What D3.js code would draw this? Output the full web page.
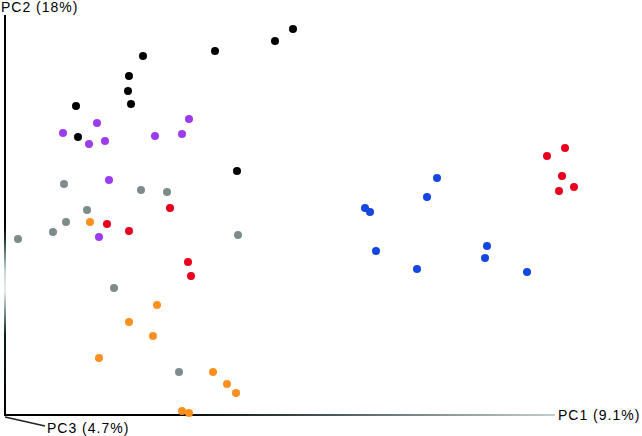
<!DOCTYPE html>
<html><head><meta charset="utf-8">
<script src="https://cdn.jsdelivr.net/npm/d3@7"></script>
<style>body{margin:0;background:#fff}svg{display:block}</style>
</head><body>
<script>
// PC scores (arbitrary units: PC1 0..550, PC2 0..400)
const groupNames = ["black","purple","gray","red","orange","blue"];
const blackPC1 = [288,270,210,138,124,123,126,71,73,232];
const blackPC2 = [386,374,364,359,339,324,311,309,278,244];
const purplePC1 = [184,92,58,177,150,100,84,104,94];
const purplePC2 = [296,292,282,281,279,274,271,235,178];
const grayPC1 = [59,136,162,82,61,48,13,233,109,174];
const grayPC2 = [231,225,223,205,193,183,176,180,127,43];
const redPC1 = [165,102,124,183,186,560,542,557,569,554];
const redPC2 = [207,191,184,153,139,267,259,239,228,224];
const orangePC1 = [85,152,124,148,94,208,222,231,177,184];
const orangePC2 = [193,110,93,79,57,43,31,22,4,2];
const bluePC1 = [432,422,360,365,371,412,482,480,522];
const bluePC2 = [237,218,207,203,164,146,169,157,143];
const groupColors = ["#000000","#9a3cf0","#7c8c8c","#e8001e","#ff9020","#1446e0"];
const axisLabels = ["PC1 (9.1%)","PC2 (18%)","PC3 (4.7%)"];

const W = 642, H = 436;
const svg = d3.select("body").append("svg").attr("width",W).attr("height",H);
const x = d3.scaleLinear().domain([0,550]).range([5,555]);
const y = d3.scaleLinear().domain([0,400]).range([415,15]);

const defs = svg.append("defs");
const gh = defs.append("linearGradient").attr("id","gh").attr("gradientUnits","userSpaceOnUse")
  .attr("x1",x(0)).attr("x2",x(550)).attr("y1",0).attr("y2",0);
[[0,"#000"],[0.3,"#000"],[0.55,"#3c4c4c"],[0.8,"#8a9898"],[1,"#c4cccc"]].forEach(s=>gh.append("stop").attr("offset",s[0]).attr("stop-color",s[1]));
const gv = defs.append("linearGradient").attr("id","gv").attr("gradientUnits","userSpaceOnUse")
  .attr("x1",0).attr("x2",0).attr("y1",y(400)).attr("y2",y(0));
[[0,"#000"],[0.53,"#000"],[0.56,"#1c3438"],[0.64,"#c8d4d4"],[0.69,"#e4ecec"],[0.76,"#5c7070"],[0.8,"#0c1c20"],[1,"#000"]].forEach(s=>gv.append("stop").attr("offset",s[0]).attr("stop-color",s[1]));

// axes
svg.append("line").attr("x1",x(0)).attr("x2",x(550)).attr("y1",y(0)).attr("y2",y(0))
  .attr("stroke","url(#gh)").attr("stroke-width",2);
svg.append("line").attr("x1",x(0)).attr("x2",x(0)).attr("y1",y(0)+1).attr("y2",y(400))
  .attr("stroke","url(#gv)").attr("stroke-width",2);
svg.append("line").attr("x1",x(0)).attr("x2",x(0)+40).attr("y1",y(0)+2).attr("y2",y(0)+11)
  .attr("stroke","#222").attr("stroke-width",1.5);

const lab = {"font-family":"Liberation Sans, Arial, sans-serif","font-size":"14px","letter-spacing":"1px","fill":"#000"};
function addText(t,px,py){const e=svg.append("text").text(t).attr("x",px).attr("y",py);Object.entries(lab).forEach(([k,v])=>e.attr(k,v));}
addText(axisLabels[0], x(550)+3, y(0)+5);
addText(axisLabels[1], 1, 12);
addText(axisLabels[2], x(0)+42, y(0)+18);

const groups = [[blackPC1,blackPC2],[purplePC1,purplePC2],[grayPC1,grayPC2],[redPC1,redPC2],[orangePC1,orangePC2],[bluePC1,bluePC2]];
groups.forEach((g,i)=>{
  const pts = g[0].map((v,j)=>({a:v,b:g[1][j]}));
  svg.append("g").selectAll("circle").data(pts).join("circle")
    .attr("cx",d=>x(d.a)).attr("cy",d=>y(d.b)).attr("r",4)
    .attr("fill",groupColors[i]);
});
</script>
</body></html>
